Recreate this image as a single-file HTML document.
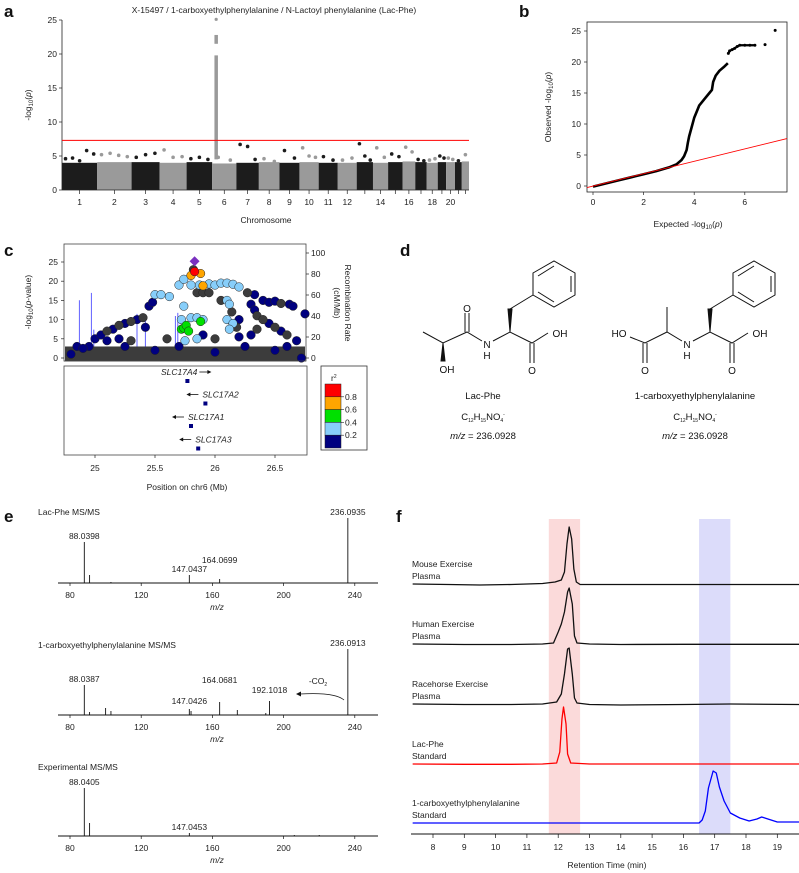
<!DOCTYPE html>
<html><head><meta charset="utf-8">
<style>
body{margin:0;background:#fff;}
svg{display:block;font-family:"Liberation Sans",Arial,sans-serif;}
.t{font-size:8.5px;fill:#222;}
.L{font-size:17px;font-weight:bold;fill:#111;}
</style></head>
<body>
<svg id="fig" width="799" height="873" viewBox="0 0 799 873" xmlns="http://www.w3.org/2000/svg">
<text class="L" x="4" y="17">a</text>
<text class="L" x="519" y="17">b</text>
<text class="L" x="4" y="256">c</text>
<text class="L" x="400" y="256">d</text>
<text class="L" x="4" y="522">e</text>
<text class="L" x="396" y="522">f</text>

<g id="pa">
<text class="t" x="274" y="13" text-anchor="middle">X-15497 / 1-carboxyethylphenylalanine / N-Lactoyl phenylalanine (Lac-Phe)</text>
<text class="t" x="266" y="223" text-anchor="middle">Chromosome</text>
<text class="t" transform="translate(31,105) rotate(-90)" text-anchor="middle">-log<tspan font-size="6" dy="2">10</tspan><tspan dy="-2">(</tspan><tspan font-style="italic">p</tspan>)</text>
</g>
<g id="pb">
<rect x="587" y="22" width="200" height="170" fill="none" stroke="#222" stroke-width="0.8"/>
<text class="t" x="688" y="227" text-anchor="middle">Expected -log<tspan font-size="6" dy="2">10</tspan><tspan dy="-2">(</tspan><tspan font-style="italic">p</tspan>)</text>
<text class="t" transform="translate(551,107) rotate(-90)" text-anchor="middle">Observed -log<tspan font-size="6" dy="2">10</tspan><tspan dy="-2">(</tspan><tspan font-style="italic">p</tspan>)</text>
</g>
<g id="pc">
<text class="t" x="195" y="253" text-anchor="middle">rs9461218</text>
<text class="t" transform="translate(31,302) rotate(-90)" text-anchor="middle">-log<tspan font-size="6" dy="2">10</tspan><tspan dy="-2">(</tspan><tspan font-style="italic">p</tspan>-value)</text>
<text class="t" transform="translate(345,303) rotate(90)" text-anchor="middle">Recombination Rate</text>
<text class="t" transform="translate(334,303) rotate(90)" text-anchor="middle">(cM/Mb)</text>
<rect x="64" y="366" width="243" height="89" fill="none" stroke="#444" stroke-width="0.8"/>
<text class="t" x="187" y="490" text-anchor="middle">Position on chr6 (Mb)</text>
<rect x="321" y="366" width="46" height="84" fill="none" stroke="#333" stroke-width="0.8"/>
<text class="t" x="331" y="381">r<tspan font-size="5" dy="-3">2</tspan></text>
</g>
<g id="pd" stroke="#111" stroke-width="1" fill="none">
 <g>
  <polyline points="423,332 443,343 467,332 482,341"/>
  <line x1="465" y1="332" x2="465" y2="313"/><line x1="469" y1="332" x2="469" y2="313"/>
  <polygon points="443,343 441,361 445,361" fill="#111"/>
  <polyline points="493,341 510,332 532,343 548,333"/>
  <polygon points="510,332 508,309 512,309" fill="#111"/>
  <line x1="510" y1="309" x2="533" y2="295"/>
  <polygon points="533,273 554,261 575,273 575,295 554,307 533,295"/>
  <line x1="538" y1="276" x2="554" y2="266"/><line x1="571" y1="276" x2="571" y2="292"/><line x1="538" y1="292" x2="554" y2="302"/>
  <line x1="530" y1="343" x2="530" y2="363"/><line x1="534" y1="343" x2="534" y2="363"/>
 </g>
 <g>
  <polyline points="630,337 645,343 667,332 682,341"/>
  <line x1="643" y1="343" x2="643" y2="363"/><line x1="647" y1="343" x2="647" y2="363"/>
  <line x1="667" y1="332" x2="667" y2="307"/>
  <polyline points="693,341 710,332 732,343 748,333"/>
  <polygon points="710,332 708,309 712,309" fill="#111"/>
  <line x1="710" y1="309" x2="733" y2="295"/>
  <polygon points="733,273 754,261 775,273 775,295 754,307 733,295"/>
  <line x1="738" y1="276" x2="754" y2="266"/><line x1="771" y1="276" x2="771" y2="292"/><line x1="738" y1="292" x2="754" y2="302"/>
  <line x1="730" y1="343" x2="730" y2="363"/><line x1="734" y1="343" x2="734" y2="363"/>
 </g>
</g>
<g font-size="10" fill="#111" text-anchor="middle">
 <text x="467" y="312">O</text>
 <text x="487" y="348">N</text>
 <text x="487" y="359">H</text>
 <text x="447" y="373">OH</text>
 <text x="532" y="374">O</text>
 <text x="560" y="337">OH</text>
 <text x="619" y="337">HO</text>
 <text x="645" y="374">O</text>
 <text x="687" y="348">N</text>
 <text x="687" y="359">H</text>
 <text x="732" y="374">O</text>
 <text x="760" y="337">OH</text>
 <text x="483" y="399" font-size="9.5">Lac-Phe</text>
 <text x="483" y="420" font-size="9.5">C<tspan font-size="5" dy="2">12</tspan><tspan dy="-2">H</tspan><tspan font-size="5" dy="2">15</tspan><tspan dy="-2">NO</tspan><tspan font-size="5" dy="2">4</tspan><tspan font-size="5" dy="-6">-</tspan></text>
 <text x="483" y="439" font-size="9.5"><tspan font-style="italic">m/z</tspan> = 236.0928</text>
 <text x="695" y="399" font-size="9.5">1-carboxyethylphenylalanine</text>
 <text x="695" y="420" font-size="9.5">C<tspan font-size="5" dy="2">12</tspan><tspan dy="-2">H</tspan><tspan font-size="5" dy="2">15</tspan><tspan dy="-2">NO</tspan><tspan font-size="5" dy="2">4</tspan><tspan font-size="5" dy="-6">-</tspan></text>
 <text x="695" y="439" font-size="9.5"><tspan font-style="italic">m/z</tspan> = 236.0928</text>
</g>
</svg>
<script>
// Panel a
const chrLens=[249,243,198,191,181,171,159,146,141,136,135,134,115,107,102,90,81,78,59,63,48,51];
const chrLabels=["1","2","3","4","5","6","7","8","9","10","11","12","","14","","16","","18","","20","",""];
const chrBandTop=[4.0,4.1,4.1,4.0,4.1,3.9,4.0,4.1,4.0,4.1,4.0,4.0,4.1,4.0,4.1,4.2,4.1,4.0,4.1,4.1,4.1,4.2];
const chrHits=[[4.6,4.7,4.3,5.8,5.3],[5.2,5.4,5.1,4.9],[4.8,5.2,5.4],[5.9,4.8,4.9],[4.6,4.8,4.5],[4.8,4.4],[6.7,6.4,4.5],[4.6,4.2],[5.8,4.7],[6.2,5.0,4.8],[4.9,4.4],[4.4,4.7],[6.8,5.0,4.4],[6.2,4.8],[5.3,4.9],[6.3,5.6],[4.5,4.3],[4.4,4.6],[5.0,4.7],[4.7,4.5],[4.3],[5.2]];
const chr6Peak=[4.5,19.8,21.5,22.8,25.1];
const sigLine=7.3;
const aYTicks=[0,5,10,15,20,25];
// Panel b
const qqExp=[0,0.5,1,1.5,2,2.5,3,3.3,3.5,3.6,3.7,3.75,3.8,3.9,4.0,4.1,4.2,4.4,4.6,4.7,4.75,4.85,5.0,5.2,5.33];
const qqObs=[-0.1,0.4,0.9,1.4,1.9,2.4,3.0,3.5,4.2,4.8,5.8,7,8,9.5,11,12,13,14,15,15.5,16.8,17.8,18.6,19.3,19.8];
const qqExp2=[5.35,5.4,5.5,5.6,5.7,5.8,6.0,6.2,6.4,6.8,7.2];
const qqObs2=[21.4,21.8,22.0,22.2,22.5,22.7,22.7,22.7,22.7,22.8,25.1];
const bXTicks=[0,2,4,6], bYTicks=[0,5,10,15,20,25];
// Panel c
const cPts=[[25.0,5,'n'],[25.05,6,'n'],[25.1,7,'g'],[25.15,7.5,'n'],[25.2,8.5,'g'],[25.25,9,'n'],[25.3,9.5,'g'],[25.35,10,'n'],[25.4,10.5,'g'],[25.42,8,'n'],[25.45,13.5,'n'],[25.48,14.5,'n'],[25.2,5,'n'],[25.3,4.5,'g'],[25.1,4.5,'n'],[24.85,3,'n'],[24.95,3,'n'],[25.6,5,'g'],[25.5,16.5,'l'],[25.55,16.5,'l'],[25.62,16,'l'],[25.7,19,'l'],[25.74,20.5,'l'],[25.8,19,'l'],[25.85,17,'g'],[25.9,17,'g'],[25.95,17,'g'],[25.87,19,'l'],[25.95,19.3,'l'],[26.0,19,'l'],[26.05,19.5,'l'],[26.1,19.5,'l'],[26.15,19.2,'l'],[26.2,18.5,'l'],[25.74,13.5,'l'],[26.05,15,'g'],[26.1,15,'l'],[26.12,14,'l'],[26.14,12,'g'],[26.1,10,'l'],[26.15,9,'l'],[26.12,7.5,'l'],[26.18,8,'g'],[26.2,10,'n'],[26.27,17,'g'],[26.33,16.5,'n'],[26.3,14,'n'],[26.33,12.5,'n'],[26.35,11,'g'],[26.4,10,'g'],[26.45,9,'n'],[26.5,8,'g'],[26.55,7,'n'],[26.6,6,'g'],[26.68,4.5,'n'],[26.4,15,'n'],[26.45,14.5,'n'],[26.5,14.8,'n'],[26.55,14.2,'g'],[26.62,14,'n'],[26.65,13.5,'n'],[26.75,11.5,'n'],[26.3,6,'n'],[26.35,7.5,'g'],[26.2,5.5,'n'],[26.0,5,'g'],[25.9,6,'n'],[25.72,10,'l'],[25.8,10.5,'l'],[25.85,10.5,'l'],[25.9,10,'l'],[25.75,4.5,'l'],[25.85,5,'l'],[25.72,7.5,'G'],[25.74,7.8,'G'],[25.76,8.5,'G'],[25.78,7,'G'],[25.88,9.5,'G'],[25.8,21.5,'o'],[25.88,22,'o'],[25.9,18.8,'o'],[25.82,23,'g'],[25.83,22.5,'r'],[24.8,1,'n'],[25.5,2,'n'],[26.0,1.5,'n'],[26.5,2,'n'],[26.72,0,'n'],[24.9,2.5,'n'],[25.25,3,'n'],[25.7,3,'n'],[26.25,3,'n'],[26.6,3,'n']];
const leadSnp=[25.83,25.2];
const recPos=[24.87,24.97,24.99,25.35,25.42,25.67,25.69];
const recRate=[55,62,27,42,38,40,43];
const cXTicks=[25,25.5,26,26.5], cYTicks=[0,5,10,15,20,25], cRTicks=[0,20,40,60,80,100];
const genes=["SLC17A4","SLC17A2","SLC17A1","SLC17A3"];
const geneStart=[25.77,25.92,25.80,25.86];
const geneDir=[1,-1,-1,-1];
const legendLevels=["0.8","0.6","0.4","0.2"];
// Panel e
const specTitles=["Lac-Phe MS/MS","1-carboxyethylphenylalanine MS/MS","Experimental MS/MS"];
const specMz=[[88.04,91,103,147.04,164.07,236.09],[88.04,91,100,103,147.04,148,164.07,174,190,192.1,236.09],[88.04,91,147.05,206,220]];
const specInt=[[41,8,1,8,4,65],[30,3,7,4,6,4,13,5,2,14,66],[48,13,3,1,1]];
const specLabels=[[["88.0398",88.04,0],["147.0437",147.04,0],["164.0699",164.07,-13],["236.0935",236.09,0]],[["88.0387",88.04,0],["147.0426",147.04,-2],["164.0681",164.07,-16],["192.1018",192.1,-5],["236.0913",236.09,0]],[["88.0405",88.04,0],["147.0453",147.05,0]]];
const specBase=[583,715,836];
const eXTicks=[80,120,160,200,240];
// Panel f
const fNames=[["Mouse Exercise","Plasma"],["Human Exercise","Plasma"],["Racehorse Exercise","Plasma"],["Lac-Phe","Standard"],["1-carboxyethylphenylalanine","Standard"]];
const fColors=["#111","#111","#111","#f00","#00f"];
const fBase=[584,644,704,764,823];
const fT=[[7.3,8.5,9.5,10.5,11.5,11.9,12.1,12.2,12.28,12.35,12.43,12.5,12.58,12.7,13.5,16,19.7],
 [7.3,9,10.5,11.5,11.85,12.0,12.1,12.2,12.3,12.35,12.45,12.52,12.6,13,14,16,19.7],
 [7.3,9,10.5,11.5,11.95,12.1,12.2,12.3,12.35,12.45,12.52,12.6,13,14,16,17.5,19.7],
 [7.3,9,10.5,11.5,11.95,12.05,12.12,12.17,12.25,12.3,12.4,13,16,19.7],
 [7.3,10,14,16.5,16.6,16.7,16.8,16.95,17.05,17.15,17.3,17.5,17.8,18.1,18.35,18.5,18.7,19,19.7]];
const fI=[[0,-0.5,-1,-0.5,0.5,2,4,12,40,57,45,15,2,-0.5,-0.5,-0.5,-0.5],
 [0,-0.5,-0.5,0,1,12,20,32,52,56,40,8,1,0,-0.5,-0.3,-0.3],
 [0,-0.5,-0.5,0,2,10,30,55,56,30,6,1,-0.5,-1,-0.5,0,-0.5],
 [0,-0.3,-0.3,0,1,12,45,57,40,10,1,0,0,0],
 [0,0,0,0,3,12,35,52,50,36,22,10,5,2,4,6,4,1,1]];
const fXTicks=[8,9,10,11,12,13,14,15,16,17,18,19];
const fBands=[[11.7,12.7,"#fbdada"],[16.5,17.5,"#dcdcfa"]];

const NS="http://www.w3.org/2000/svg";
const svg=document.getElementById('fig');
function mk(tag,attrs,parent){const e=document.createElementNS(NS,tag);for(const k in attrs)e.setAttribute(k,attrs[k]);(parent||svg).appendChild(e);return e;}
function txt(x,y,s,anchor,extra){const e=mk('text',Object.assign({x:x,y:y,'text-anchor':anchor||'middle','class':'t'},extra||{}));e.textContent=s;return e;}

// Panel a
const total=chrLens.reduce((a,b)=>a+b,0);
const ax0=62,ax1=469;
const ya=v=>190-v*6.8;
let cum=0;
const chrStart=[],chrEnd=[];
chrLens.forEach((l,i)=>{chrStart.push(ax0+(cum/total)*(ax1-ax0));cum+=l;chrEnd.push(ax0+(cum/total)*(ax1-ax0));});
chrLens.forEach((l,i)=>{
  const col=i%2===0?"#1c1c1c":"#9a9a9a";
  const r=mk('rect',{x:chrStart[i],y:ya(chrBandTop[i]),width:chrEnd[i]-chrStart[i],height:ya(0)-ya(chrBandTop[i]),fill:col});
  
  
  const n=chrHits[i].length;
  chrHits[i].forEach((v,j)=>{
    const c=mk('circle',{cx:chrStart[i]+(chrEnd[i]-chrStart[i])*(j+0.5)/n,cy:ya(v),r:1.8,fill:col});
    
    
  });
  const cx=(chrStart[i]+chrEnd[i])/2;
  mk('line',{x1:cx,y1:190,x2:cx,y2:194,stroke:'#222','stroke-width':0.7});
  if(chrLabels[i]){const t=txt(cx,205,chrLabels[i]);}
});
{
  const cx=chrStart[5]+4;
  const p1=mk('line',{x1:cx,y1:ya(chr6Peak[0]),x2:cx,y2:ya(chr6Peak[1]),stroke:'#9a9a9a','stroke-width':3.5});
  
  
  const p2=mk('line',{x1:cx,y1:ya(chr6Peak[2]),x2:cx,y2:ya(chr6Peak[3]),stroke:'#9a9a9a','stroke-width':3.5});
  
  
  const p3=mk('circle',{cx:cx,cy:ya(chr6Peak[4]),r:1.6,fill:'#9a9a9a'});
  
  
}
mk('line',{x1:ax0,y1:190,x2:ax1,y2:190,stroke:'#222','stroke-width':0.8});
mk('line',{x1:ax0,y1:ya(25),x2:ax0,y2:190,stroke:'#222','stroke-width':0.8});
aYTicks.forEach(v=>{mk('line',{x1:ax0-3,y1:ya(v),x2:ax0,y2:ya(v),stroke:'#222','stroke-width':0.7});const t=txt(ax0-5,ya(v)+3,String(v),'end');});
{const s=mk('line',{x1:ax0,y1:ya(sigLine),x2:ax1,y2:ya(sigLine),stroke:'#f00','stroke-width':1});

}

// Panel b
const xb=v=>593+v*25.3, yb=v=>186-v*6.2;
bXTicks.forEach(v=>{mk('line',{x1:xb(v),y1:192,x2:xb(v),y2:195,stroke:'#222','stroke-width':0.7});const t=txt(xb(v),205,String(v));});
bYTicks.forEach(v=>{mk('line',{x1:584,y1:yb(v),x2:587,y2:yb(v),stroke:'#222','stroke-width':0.7});const t=txt(581,yb(v)+3,String(v),'end');});
{const pl=mk('polyline',{points:qqExp.map((e,i)=>xb(e)+','+yb(qqObs[i])).join(' '),fill:'none',stroke:'#000','stroke-width':2.6,'stroke-linejoin':'round'});


qqExp2.forEach((e,i)=>{const c=mk('circle',{cx:xb(e),cy:yb(qqObs2[i]),r:1.5,fill:'#000'});

});
const pl2=mk('polyline',{points:qqExp2.slice(0,9).map((e,i)=>xb(e)+','+yb(qqObs2[i])).join(' '),fill:'none',stroke:'#000','stroke-width':2.2});


const red=mk('line',{x1:587,y1:yb(-0.25),x2:787,y2:yb(7.65),stroke:'#f00','stroke-width':0.9});

}

// Panel c
const xc=p=>95+(p-25)*120, yc=v=>358-v*3.84, yr=r=>358-r*1.05;
const cCol={n:'#000080',g:'#3c3c3c',l:'#87cefa',G:'#00e000',o:'#ffa500',r:'#ff0000'};
mk('rect',{x:64,y:244,width:242,height:117,fill:'#fff',stroke:'#444','stroke-width':0.8});
recPos.forEach((p,i)=>{const l=mk('line',{x1:xc(p),y1:yr(0),x2:xc(p),y2:yr(recRate[i]),stroke:'#6060ff','stroke-width':1});

});
{const b=mk('rect',{x:65,y:yc(3),width:240,height:yc(0)-yc(3)+3,fill:'#3c3c3c'});}
['n','g','l','G','o','r'].forEach(cls=>{
 cPts.filter(p=>p[2]===cls).forEach(p=>{
  const c=mk('circle',{cx:xc(p[0]),cy:yc(p[1]),r:4.3,fill:cCol[cls],stroke:'#222','stroke-width':0.5});
  
  
 });
});
{const x=xc(leadSnp[0]),y=yc(leadSnp[1]);const d=mk('polygon',{points:`${x},${y-5} ${x+5},${y} ${x},${y+5} ${x-5},${y}`,fill:'#7a30c0'});

}
mk('line',{x1:64,y1:361,x2:306,y2:361,stroke:'#444','stroke-width':0.8});
cYTicks.forEach(v=>{mk('line',{x1:61,y1:yc(v),x2:64,y2:yc(v),stroke:'#222','stroke-width':0.7});const t=txt(58,yc(v)+3,String(v),'end');});
cRTicks.forEach(v=>{mk('line',{x1:306,y1:yr(v),x2:309,y2:yr(v),stroke:'#222','stroke-width':0.7});const t=txt(311,yr(v)+3,String(v),'start');});
cXTicks.forEach(v=>{mk('line',{x1:xc(v),y1:455,x2:xc(v),y2:458,stroke:'#222','stroke-width':0.7});const t=txt(xc(v),471,String(v));});
genes.forEach((g,i)=>{
 const y=381+i*22.5, x=xc(geneStart[i]);
 const sq=mk('rect',{x:x-2,y:y-2,width:4,height:4,fill:'#000080'});
 
 
 const t=txt(geneDir[i]>0?x+10:x,y-6,g,geneDir[i]>0?'end':'start',{'font-style':'italic'});
 if(geneDir[i]<0)t.setAttribute('x',x-3);
 
 
 const ay=y-9;
 if(geneDir[i]>0){mk('line',{x1:x+12,y1:ay,x2:x+22,y2:ay,stroke:'#111','stroke-width':0.8});mk('polygon',{points:`${x+24},${ay} ${x+20},${ay-2} ${x+20},${ay+2}`,fill:'#111'});}
 else{mk('line',{x1:x-17,y1:ay,x2:x-7,y2:ay,stroke:'#111','stroke-width':0.8});mk('polygon',{points:`${x-19},${ay} ${x-15},${ay-2} ${x-15},${ay+2}`,fill:'#111'});}
});
['#ff0000','#ffa500','#00e000','#87cefa','#000080'].forEach((c,i)=>{const r=mk('rect',{x:325,y:384+i*12.8,width:16,height:12.8,fill:c,stroke:'#222','stroke-width':0.5});

});
legendLevels.forEach((s,i)=>{const y=396.8+i*12.8;mk('line',{x1:341,y1:y,x2:344,y2:y,stroke:'#222','stroke-width':0.6});const t=txt(345,y+3,s,'start',{'font-size':'7.5'});});

// Panel e
const xe=m=>70+(m-80)*1.78;
specTitles.forEach((title,k)=>{
 const b=specBase[k];
 const tt=txt(38,b-[68,67,66][k],title,'start');
 const ax=mk('line',{x1:58,y1:b,x2:378,y2:b,stroke:'#111','stroke-width':1});
 
 
 specMz[k].forEach((m,i)=>{const l=mk('line',{x1:xe(m),y1:b,x2:xe(m),y2:b-specInt[k][i],stroke:'#111','stroke-width':0.9});
  
  });
 specLabels[k].forEach(L=>{
  const i=specMz[k].findIndex(m=>Math.abs(m-L[1])<0.5);
  const h=i>=0?specInt[k][i]:2;
  const t=txt(xe(L[1]),b-h-3+L[2],L[0]);
  
  
 });
 eXTicks.forEach(v=>{mk('line',{x1:xe(v),y1:b,x2:xe(v),y2:b+3,stroke:'#111','stroke-width':0.7});const t=txt(xe(v),b+15,String(v));});
 const mz=txt(217,b+27,'m/z','middle',{'font-style':'italic'});
});
{const co=txt(318,684,'-CO','middle');co.innerHTML='-CO<tspan font-size="5" dy="2">2</tspan>';
const ar=mk('path',{d:'M344,700 Q335,692 300,694',fill:'none',stroke:'#111','stroke-width':0.8});


mk('polygon',{points:'296,694 301,691.5 301,696.5',fill:'#111'});}

// Panel f
const xf=t=>433+(t-8)*31.3;
fBands.forEach(b=>{const r=mk('rect',{x:xf(b[0]),y:519,width:xf(b[1])-xf(b[0]),height:834-519,fill:b[2]});

});
fNames.forEach((n,k)=>{
 const b=fBase[k];
 const p=mk('polyline',{points:fT[k].map((t,i)=>xf(Math.max(7.35,Math.min(19.75,t)))+','+(b-fI[k][i])).join(' '),fill:'none',stroke:fColors[k],'stroke-width':1.3,'stroke-linejoin':'round'});
 
 
 const t1=txt(412,b-17,n[0],'start',{fill:fColors[k]});
 const t2=txt(412,b-5,n[1],'start',{fill:fColors[k]});
});
mk('line',{x1:411,y1:834,x2:799,y2:834,stroke:'#111','stroke-width':1});
fXTicks.forEach(v=>{mk('line',{x1:xf(v),y1:834,x2:xf(v),y2:838,stroke:'#111','stroke-width':0.7});const t=txt(xf(v),850,String(v));});
{const t=txt(607,868,'Retention Time (min)');}
</script>
</body></html>
